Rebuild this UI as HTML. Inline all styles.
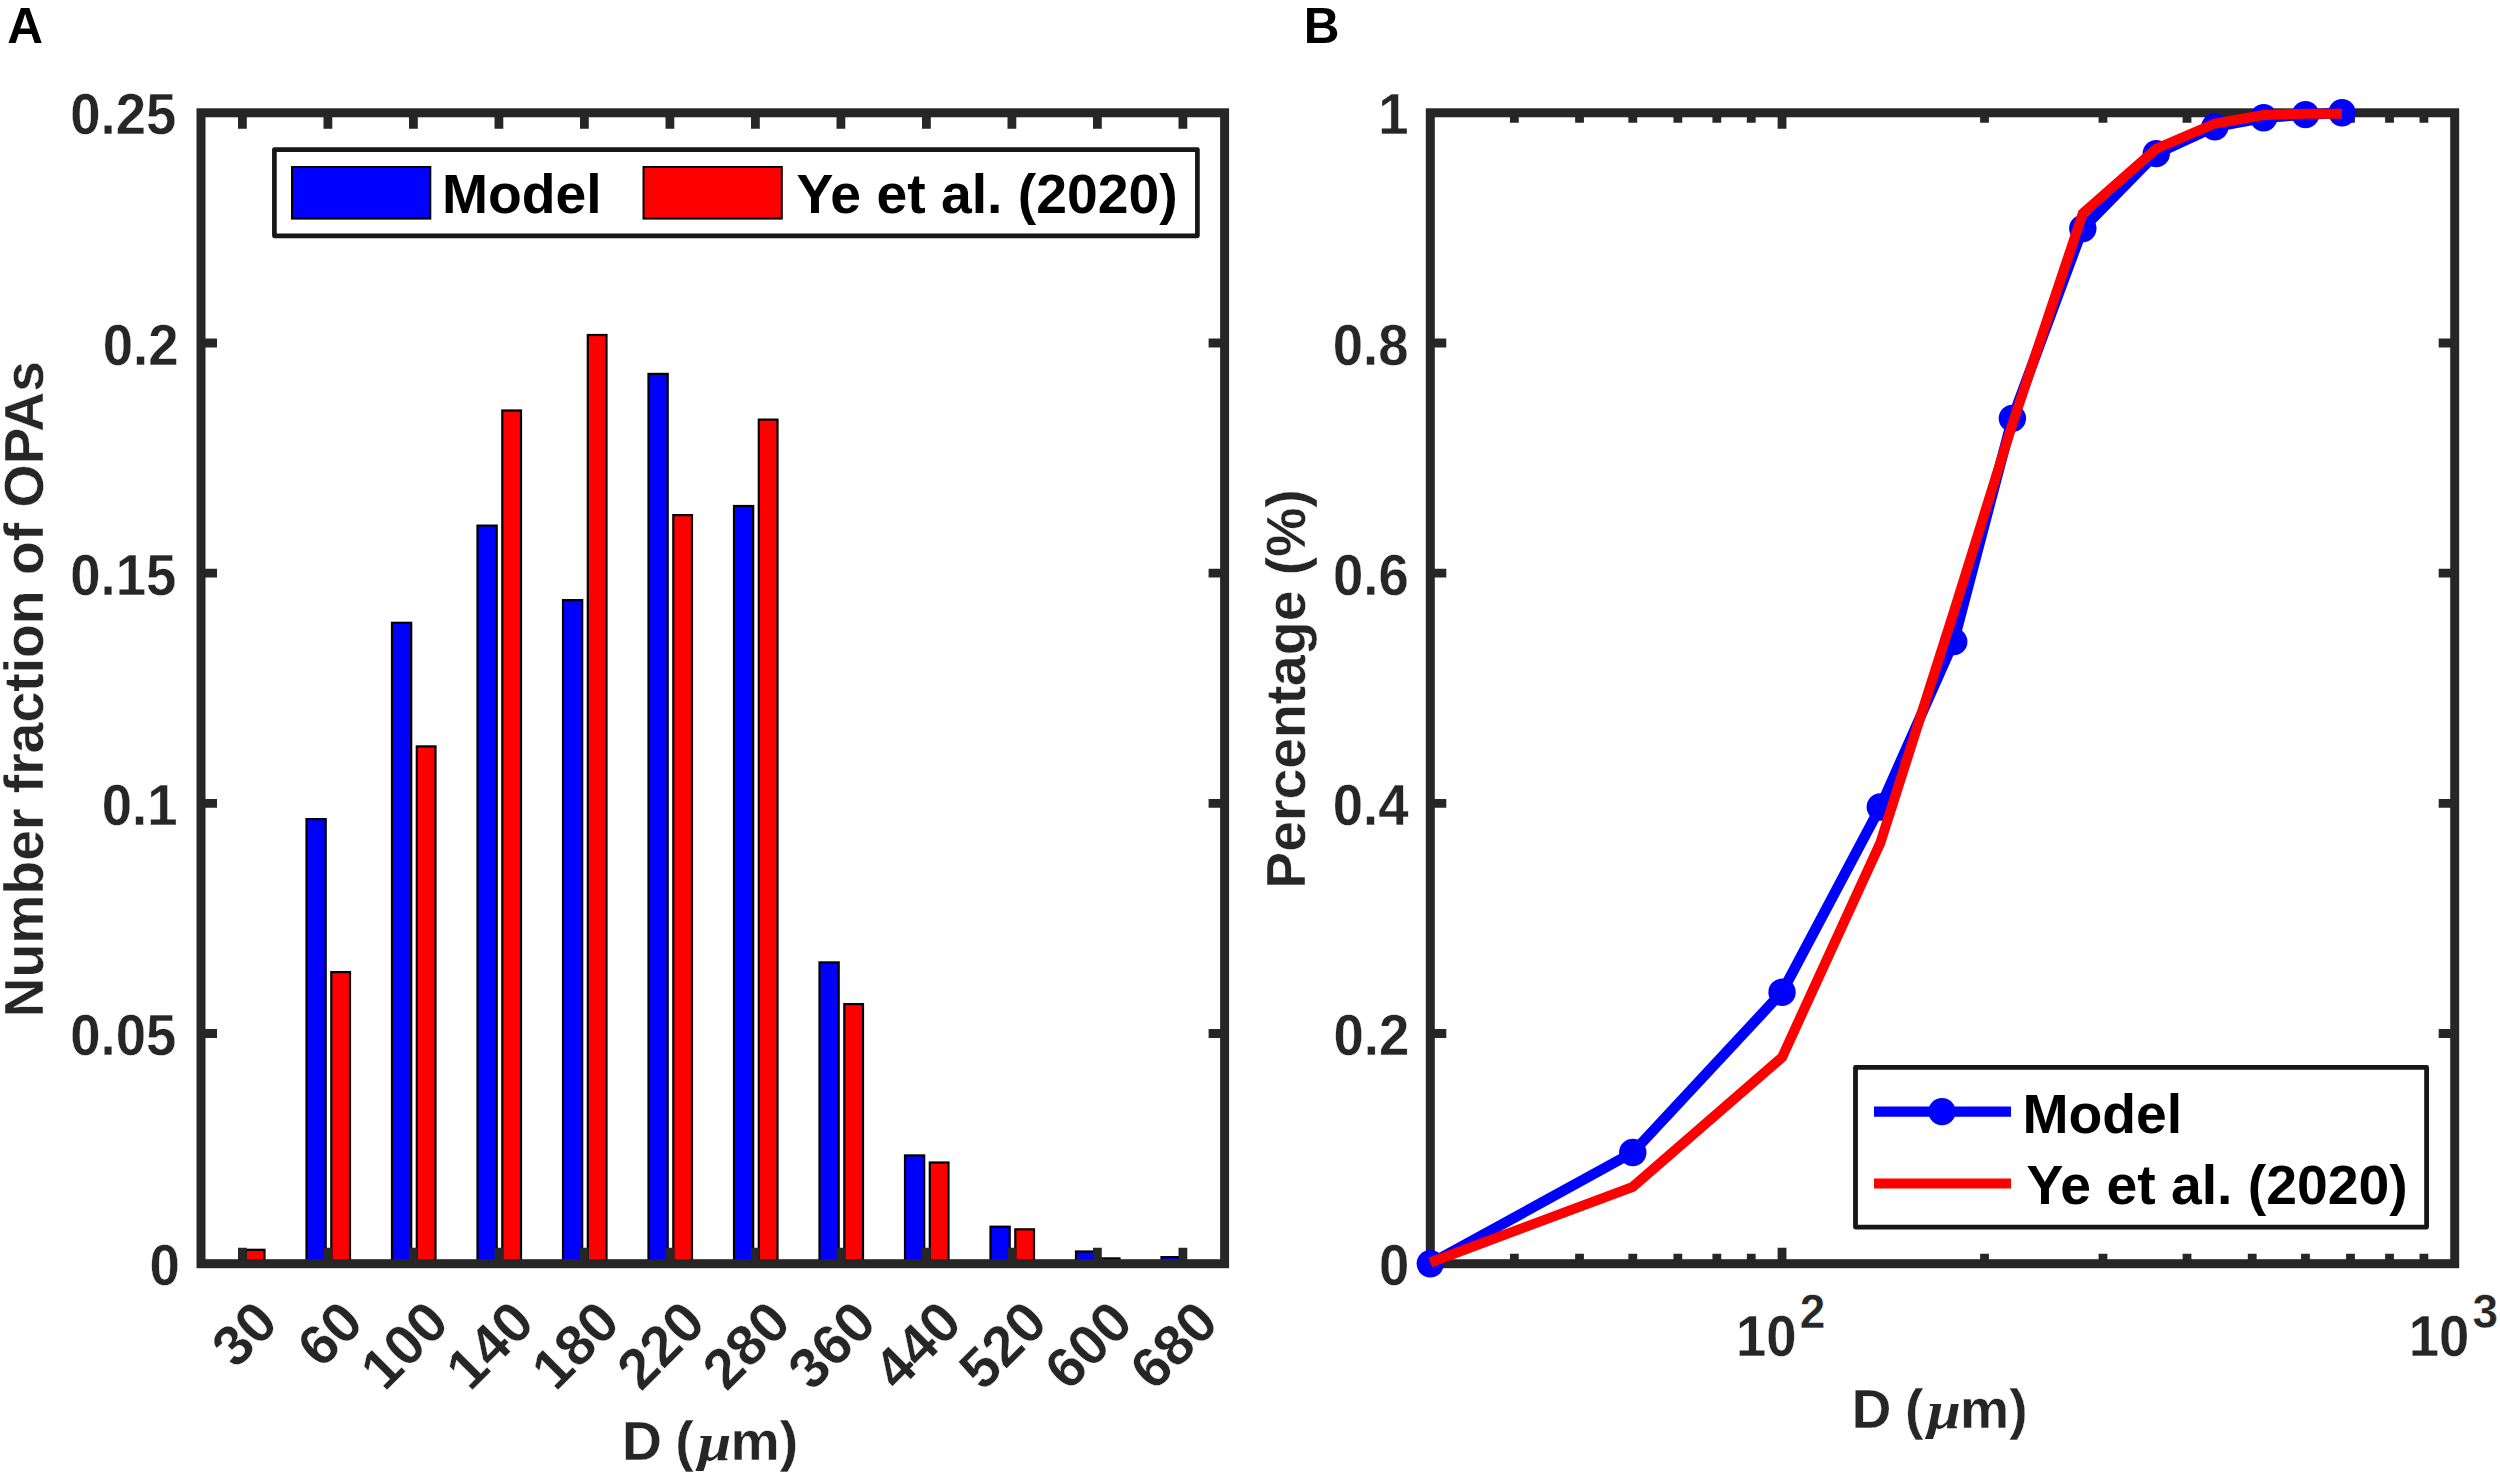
<!DOCTYPE html><html><head><meta charset="utf-8"><title>OPA size distribution</title>
<style>html,body{margin:0;padding:0;background:#fff}svg{display:block}text{font-family:"Liberation Sans",Arial,Helvetica,sans-serif;font-weight:bold}.g{fill:#262626;stroke:#fff;stroke-width:0.35px}.mu{font-family:"Liberation Serif","DejaVu Serif",serif;font-style:italic;font-weight:bold}</style></head><body>
<svg width="2500" height="1477" viewBox="0 0 2500 1477">
<rect width="2500" height="1477" fill="#fff"/>
<g id="panelA">
<rect x="245.80" y="1249.80" width="18.70" height="13.90" fill="#ff0000" stroke="#000" stroke-width="2.2"/>
<rect x="306.50" y="819.10" width="19.20" height="444.60" fill="#0000ff" stroke="#000" stroke-width="2.2"/>
<rect x="331.30" y="972.10" width="18.70" height="291.60" fill="#ff0000" stroke="#000" stroke-width="2.2"/>
<rect x="392.00" y="622.80" width="19.20" height="640.90" fill="#0000ff" stroke="#000" stroke-width="2.2"/>
<rect x="416.80" y="746.40" width="18.70" height="517.30" fill="#ff0000" stroke="#000" stroke-width="2.2"/>
<rect x="477.50" y="525.60" width="19.20" height="738.10" fill="#0000ff" stroke="#000" stroke-width="2.2"/>
<rect x="502.30" y="410.50" width="18.70" height="853.20" fill="#ff0000" stroke="#000" stroke-width="2.2"/>
<rect x="563.00" y="600.10" width="19.20" height="663.60" fill="#0000ff" stroke="#000" stroke-width="2.2"/>
<rect x="587.80" y="335.00" width="18.70" height="928.70" fill="#ff0000" stroke="#000" stroke-width="2.2"/>
<rect x="648.50" y="373.90" width="19.20" height="889.80" fill="#0000ff" stroke="#000" stroke-width="2.2"/>
<rect x="673.30" y="515.10" width="18.70" height="748.60" fill="#ff0000" stroke="#000" stroke-width="2.2"/>
<rect x="734.00" y="506.00" width="19.20" height="757.70" fill="#0000ff" stroke="#000" stroke-width="2.2"/>
<rect x="758.80" y="419.60" width="18.70" height="844.10" fill="#ff0000" stroke="#000" stroke-width="2.2"/>
<rect x="819.50" y="962.40" width="19.20" height="301.30" fill="#0000ff" stroke="#000" stroke-width="2.2"/>
<rect x="844.30" y="1004.10" width="18.70" height="259.60" fill="#ff0000" stroke="#000" stroke-width="2.2"/>
<rect x="905.00" y="1155.40" width="19.20" height="108.30" fill="#0000ff" stroke="#000" stroke-width="2.2"/>
<rect x="929.80" y="1162.50" width="18.70" height="101.20" fill="#ff0000" stroke="#000" stroke-width="2.2"/>
<rect x="990.50" y="1226.70" width="19.20" height="37.00" fill="#0000ff" stroke="#000" stroke-width="2.2"/>
<rect x="1015.30" y="1229.30" width="18.70" height="34.40" fill="#ff0000" stroke="#000" stroke-width="2.2"/>
<rect x="1076.00" y="1251.50" width="19.20" height="12.20" fill="#0000ff" stroke="#000" stroke-width="2.2"/>
<rect x="1100.80" y="1258.40" width="18.70" height="5.30" fill="#ff0000" stroke="#000" stroke-width="2.2"/>
<rect x="1161.50" y="1257.10" width="19.20" height="6.60" fill="#0000ff" stroke="#000" stroke-width="2.2"/>
<path d="M242.40 1263.7V1247.7M242.40 112.8V128.8M327.90 1263.7V1247.7M327.90 112.8V128.8M413.40 1263.7V1247.7M413.40 112.8V128.8M498.90 1263.7V1247.7M498.90 112.8V128.8M584.40 1263.7V1247.7M584.40 112.8V128.8M669.90 1263.7V1247.7M669.90 112.8V128.8M755.40 1263.7V1247.7M755.40 112.8V128.8M840.90 1263.7V1247.7M840.90 112.8V128.8M926.40 1263.7V1247.7M926.40 112.8V128.8M1011.90 1263.7V1247.7M1011.90 112.8V128.8M1097.40 1263.7V1247.7M1097.40 112.8V128.8M1182.90 1263.7V1247.7M1182.90 112.8V128.8M201.0 1033.52H217.0M1224.6 1033.52H1208.6M201.0 803.34H217.0M1224.6 803.34H1208.6M201.0 573.16H217.0M1224.6 573.16H1208.6M201.0 342.98H217.0M1224.6 342.98H1208.6" stroke="#262626" stroke-width="8.8" fill="none"/>
<rect x="201.0" y="112.8" width="1023.5999999999999" height="1150.9" fill="none" stroke="#262626" stroke-width="9.0"/>
<text class="g" transform="translate(179.70 1285.30) scale(1 1.046)" font-size="54.5" text-anchor="end">0</text>
<text class="g" transform="translate(176.30 1055.12) scale(1 1.046)" font-size="54.5" text-anchor="end">0.05</text>
<text class="g" transform="translate(177.50 824.94) scale(1 1.046)" font-size="54.5" text-anchor="end">0.1</text>
<text class="g" transform="translate(176.30 594.76) scale(1 1.046)" font-size="54.5" text-anchor="end">0.15</text>
<text class="g" transform="translate(178.50 364.58) scale(1 1.046)" font-size="54.5" text-anchor="end">0.2</text>
<text class="g" transform="translate(176.30 134.40) scale(1 1.046)" font-size="54.5" text-anchor="end">0.25</text>
<text class="g" transform="translate(280.40 1325.40) rotate(-45)" font-size="56.8" text-anchor="end">30</text>
<text class="g" transform="translate(365.90 1325.40) rotate(-45)" font-size="56.8" text-anchor="end">60</text>
<text class="g" transform="translate(451.40 1325.40) rotate(-45)" font-size="56.8" text-anchor="end">100</text>
<text class="g" transform="translate(536.90 1325.40) rotate(-45)" font-size="56.8" text-anchor="end">140</text>
<text class="g" transform="translate(622.40 1325.40) rotate(-45)" font-size="56.8" text-anchor="end">180</text>
<text class="g" transform="translate(707.90 1325.40) rotate(-45)" font-size="56.8" text-anchor="end">220</text>
<text class="g" transform="translate(793.40 1325.40) rotate(-45)" font-size="56.8" text-anchor="end">280</text>
<text class="g" transform="translate(878.90 1325.40) rotate(-45)" font-size="56.8" text-anchor="end">360</text>
<text class="g" transform="translate(964.40 1325.40) rotate(-45)" font-size="56.8" text-anchor="end">440</text>
<text class="g" transform="translate(1049.90 1325.40) rotate(-45)" font-size="56.8" text-anchor="end">520</text>
<text class="g" transform="translate(1135.40 1325.40) rotate(-45)" font-size="56.8" text-anchor="end">600</text>
<text class="g" transform="translate(1220.90 1325.40) rotate(-45)" font-size="56.8" text-anchor="end">680</text>
<text class="g" x="622" y="1460.3" font-size="55.3">D<tspan dx="-2"> (</tspan></text><text class="mu" transform="translate(698.00 1460.3) scale(1.15 1)" font-size="52" fill="#262626">μ</text><text class="g" x="730.50" y="1460.3" font-size="55.3">m)</text>
<text class="g" transform="translate(43.3 689.2) rotate(-90)" font-size="55.3" text-anchor="middle">Number fraction of OPAs</text>
<rect x="274.4" y="149.6" width="923.0000000000001" height="86.20000000000002" fill="#fff" stroke="#171717" stroke-width="4.7" stroke-linejoin="round"/>
<rect x="292" y="167" width="138.3" height="51.6" fill="#0000ff" stroke="#000" stroke-width="2"/>
<rect x="643.5" y="167" width="138.3" height="51.6" fill="#ff0000" stroke="#000" stroke-width="2"/>
<text x="442" y="213.4" font-size="55.3" fill="#000">Model</text>
<text x="796.5" y="213.4" font-size="55.3" fill="#000">Ye et al. (2020)</text>
<text x="7.3" y="42.6" font-size="49.5" fill="#000">A</text>
</g>
<g id="panelB">
<path d="M1514.34 1263.7V1253.7M1514.34 112.8V122.8M1579.53 1263.7V1253.7M1579.53 112.8V122.8M1632.79 1263.7V1253.7M1632.79 112.8V122.8M1677.83 1263.7V1253.7M1677.83 112.8V122.8M1716.84 1263.7V1253.7M1716.84 112.8V122.8M1751.25 1263.7V1253.7M1751.25 112.8V122.8M1984.52 1263.7V1253.7M1984.52 112.8V122.8M2102.97 1263.7V1253.7M2102.97 112.8V122.8M2187.02 1263.7V1253.7M2187.02 112.8V122.8M2252.21 1263.7V1253.7M2252.21 112.8V122.8M2305.47 1263.7V1253.7M2305.47 112.8V122.8M2350.50 1263.7V1253.7M2350.50 112.8V122.8M2389.51 1263.7V1253.7M2389.51 112.8V122.8M2423.92 1263.7V1253.7M2423.92 112.8V122.8M1782.03 1263.7V1247.7M1782.03 112.8V128.8M1430.3 1033.52H1446.3M2454.7 1033.52H2438.7M1430.3 803.34H1446.3M2454.7 803.34H2438.7M1430.3 573.16H1446.3M2454.7 573.16H2438.7M1430.3 342.98H1446.3M2454.7 342.98H2438.7" stroke="#262626" stroke-width="8.8" fill="none"/>
<rect x="1430.3" y="112.8" width="1024.3999999999999" height="1150.9" fill="none" stroke="#262626" stroke-width="9.0"/>
<polyline points="1430.30,1263.70 1632.79,1152.52 1782.03,992.20 1880.32,807.02 1953.74,641.64 2012.37,418.36 2082.82,228.47 2156.24,153.66 2214.86,126.84 2263.66,117.75 2305.47,114.64 2342.03,112.80" fill="none" stroke="#0000ff" stroke-width="10.5" stroke-linejoin="round"/>
<circle cx="1430.30" cy="1263.70" r="13.7" fill="#0000ff"/>
<circle cx="1632.79" cy="1152.52" r="13.7" fill="#0000ff"/>
<circle cx="1782.03" cy="992.20" r="13.7" fill="#0000ff"/>
<circle cx="1880.32" cy="807.02" r="13.7" fill="#0000ff"/>
<circle cx="1953.74" cy="641.64" r="13.7" fill="#0000ff"/>
<circle cx="2012.37" cy="418.36" r="13.7" fill="#0000ff"/>
<circle cx="2082.82" cy="228.47" r="13.7" fill="#0000ff"/>
<circle cx="2156.24" cy="153.66" r="13.7" fill="#0000ff"/>
<circle cx="2214.86" cy="126.84" r="13.7" fill="#0000ff"/>
<circle cx="2263.66" cy="117.75" r="13.7" fill="#0000ff"/>
<circle cx="2305.47" cy="114.64" r="13.7" fill="#0000ff"/>
<circle cx="2342.03" cy="112.80" r="13.7" fill="#0000ff"/>
<polyline points="1430.30,1262.55 1632.79,1186.82 1782.03,1057.34 1880.32,842.93 1953.74,612.29 2012.37,424.12 2082.82,213.27 2156.24,148.71 2214.86,123.50 2263.66,115.10 2305.47,113.72 2342.03,113.72" fill="none" stroke="#ff0000" stroke-width="10" stroke-linejoin="miter"/>
<text class="g" transform="translate(1409.30 1285.30) scale(1 1.046)" font-size="54.5" text-anchor="end">0</text>
<text class="g" transform="translate(1409.30 1055.12) scale(1 1.046)" font-size="54.5" text-anchor="end">0.2</text>
<text class="g" transform="translate(1408.50 824.94) scale(1 1.046)" font-size="54.5" text-anchor="end">0.4</text>
<text class="g" transform="translate(1408.80 594.76) scale(1 1.046)" font-size="54.5" text-anchor="end">0.6</text>
<text class="g" transform="translate(1408.50 364.58) scale(1 1.046)" font-size="54.5" text-anchor="end">0.8</text>
<text class="g" transform="translate(1408.50 134.40) scale(1 1.046)" font-size="54.5" text-anchor="end">1</text>
<text class="g" transform="translate(1736.03 1355.6) scale(1 1.046)" font-size="54.5">10<tspan font-size="46" dy="-26.3" dx="3.2">2</tspan></text>
<text class="g" transform="translate(2408.70 1355.6) scale(1 1.046)" font-size="54.5">10<tspan font-size="46" dy="-26.3" dx="3.2">3</tspan></text>
<text class="g" x="1851.6" y="1427.6" font-size="55.3">D<tspan dx="-2"> (</tspan></text><text class="mu" transform="translate(1927.60 1427.6) scale(1.15 1)" font-size="52" fill="#262626">μ</text><text class="g" x="1960.10" y="1427.6" font-size="55.3">m)</text>
<text class="g" transform="translate(1304.8 689) rotate(-90)" font-size="55.3" text-anchor="middle">Percentage (%)</text>
<rect x="1855.5" y="1067.3" width="571.0999999999999" height="159.79999999999995" fill="#fff" stroke="#171717" stroke-width="4.8" stroke-linejoin="round"/>
<path d="M1874 1111.6H2011" stroke="#0000ff" stroke-width="10.3"/>
<circle cx="1942" cy="1111.6" r="13.7" fill="#0000ff"/>
<path d="M1874 1183.5H2011" stroke="#ff0000" stroke-width="10"/>
<text x="2022.5" y="1133.2" font-size="55.3" fill="#000">Model</text>
<text x="2026.5" y="1204.4" font-size="55.3" fill="#000">Ye et al. (2020)</text>
<text x="1303.8" y="42.6" font-size="49.5" fill="#000">B</text>
</g>
</svg></body></html>
